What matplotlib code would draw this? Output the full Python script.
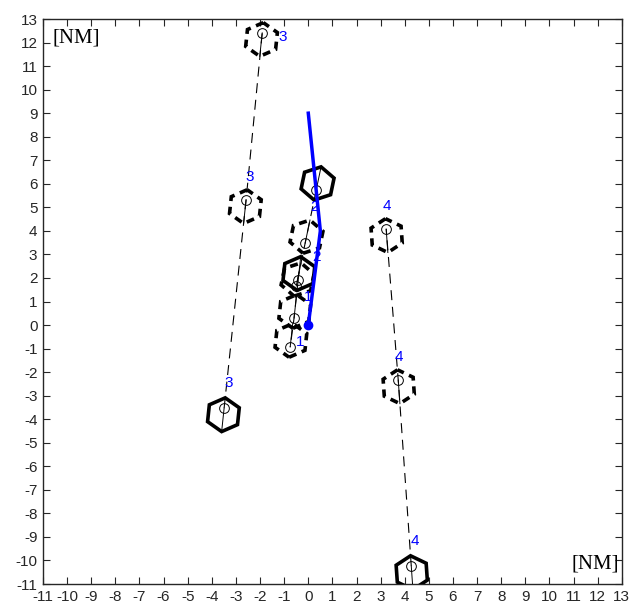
import numpy as np
import matplotlib
matplotlib.use('Agg')
import matplotlib.pyplot as plt
from matplotlib.patches import Polygon

# own ship route (blue)
own_x = [0.0, 0.5, 0.0]
own_y = [0.0, 4.0, 9.0]

# target ships: first point is current position, others predicted
ship_ids = ['1', '2', '3', '4']
ship_x = [[-0.42, -0.59, -0.75],
          [0.33, -0.13, -0.50],
          [-3.49, -2.58, -1.91],
          [4.27, 3.73, 3.23]]
ship_y = [[1.91, 0.30, -0.93],
          [5.74, 3.48, 1.66],
          [-3.53, 5.31, 12.41],
          [-10.24, -2.34, 4.08]]

# where the number labels sit
label_x = [[0.0, -0.34], [0.24, 0.33], [-3.28, -2.41, -1.08], [3.27, 3.77, 4.44]]
label_y = [[1.19, -0.72], [5.01, 2.89], [-2.46, 6.29, 12.24], [5.06, -1.36, -9.17]]

ticks = list(range(-11, 14))

plt.rcParams['font.family'] = ['Liberation Sans', 'DejaVu Sans']
plt.rcParams['axes.unicode_minus'] = False
fig = plt.figure(figsize=(6.34, 6.04), dpi=100)
ax = fig.add_axes([0.0678, 0.0331, 0.913, 0.9354])


def hexagon(cx, cy, hx, hy, r=0.72, back=0.28):
    ang = np.arctan2(hy, hx)
    ccx, ccy = cx - back * np.cos(ang), cy - back * np.sin(ang)
    a = ang + np.arange(6) * np.pi / 3
    pts = np.column_stack([ccx + r * np.cos(a), ccy + r * np.sin(a)])
    tail = (ccx - r * np.cos(ang), ccy - r * np.sin(ang))
    return pts, tail


for sx, sy in zip(ship_x, ship_y):
    sx = np.array(sx)
    sy = np.array(sy)
    ax.plot(sx, sy, color='k', lw=0.8, ls=(0, (9, 6)), zorder=2)
    hx, hy = sx[1] - sx[0], sy[1] - sy[0]
    n = np.hypot(hx, hy)
    hx, hy = hx / n, hy / n
    for i in range(len(sx)):
        pts, tail = hexagon(sx[i], sy[i], hx, hy)
        if i == 0:
            poly = Polygon(pts, closed=True, fill=False, ec='k', lw=2.6, zorder=3)
        else:
            poly = Polygon(pts, closed=True, fill=False, ec='k', lw=2.6,
                           ls=(0, (2.2, 1.6)), zorder=3)
        ax.add_patch(poly)
        ax.plot([sx[i], tail[0]], [sy[i], tail[1]], color='k', lw=0.7, zorder=3)
        ax.plot(sx[i], sy[i], 'o', mfc='none', mec='k', ms=7, mew=0.7, zorder=4)

for sid, lx, ly in zip(ship_ids, label_x, label_y):
    for x, y in zip(lx, ly):
        ax.text(x, y, sid, color='#0000ff', fontsize=11, ha='center', va='center', zorder=5)

ax.plot(own_x, own_y, color='#0000ff', lw=2.5, zorder=4)
ax.plot(own_x[0], own_y[0], 'o', color='#0000ff', ms=6, zorder=5)

ax.text(-10.6, 12.2, '[NM]', family='Liberation Serif', fontsize=15, va='center', ha='left')
ax.text(12.9, -10.15, '[NM]', family='Liberation Serif', fontsize=15, va='center', ha='right')

ax.set_xlim(-11, 13)
ax.set_ylim(-11, 13)
ax.set_xticks(ticks)
ax.set_yticks(ticks)
ax.tick_params(direction='in', length=5, width=0.8, labelsize=11, colors='#262626',
               top=True, right=True, pad=4)
for s in ax.spines.values():
    s.set_color('#262626')
    s.set_linewidth(1.0)

fig.savefig('out.png', dpi=100)
